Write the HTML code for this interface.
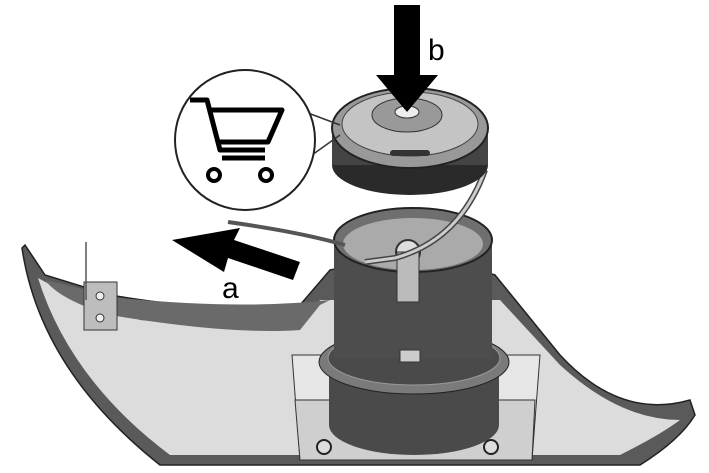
<!DOCTYPE html>
<html><head><style>html,body{margin:0;padding:0;background:#fff;width:709px;height:473px;overflow:hidden}</style></head>
<body>
<svg width="709" height="473" viewBox="0 0 709 473" xmlns="http://www.w3.org/2000/svg">
<!-- guard -->
<path d="M22,248 Q40,370 160,465 L640,465 Q680,440 695,415 L690,400 Q620,420 560,355 L495,275 Q420,250 330,270 L300,305 Q230,315 110,295 L45,275 L25,245 Z" fill="#5a5a5a" stroke="#222" stroke-width="1.5"/>
<path d="M38,278 Q70,380 170,455 L620,455 Q660,435 680,420 Q620,420 560,365 L500,300 L320,300 Q300,335 140,320 L60,290 Z" fill="#dcdcdc"/>
<path d="M45,280 Q60,300 110,315 Q230,335 300,330 L320,305 L330,300 Q240,310 120,298 Z" fill="#6a6a6a"/>
<!-- bracket -->
<rect x="84" y="282" width="33" height="48" fill="#bdbdbd" stroke="#333"/>
<circle cx="100" cy="296" r="4" fill="#eee" stroke="#333"/><circle cx="100" cy="318" r="4" fill="#eee" stroke="#333"/>
<line x1="86" y1="242" x2="86" y2="300" stroke="#555" stroke-width="1.5"/>
<!-- plate -->
<path d="M292,355 L540,355 L532,460 L300,460 Z" fill="#e6e6e6" stroke="#333"/>
<path d="M295,400 L535,400 L532,460 L300,460 Z" fill="#cfcfcf" stroke="#333"/>
<circle cx="324" cy="447" r="7" fill="#ddd" stroke="#222" stroke-width="2"/>
<circle cx="491" cy="447" r="7" fill="#ddd" stroke="#222" stroke-width="2"/>
<!-- base cylinder -->
<ellipse cx="414" cy="425" rx="85" ry="30" fill="#4a4a4a"/>
<rect x="329" y="365" width="170" height="60" fill="#4a4a4a"/>
<ellipse cx="414" cy="362" rx="95" ry="32" fill="#7a7a7a" stroke="#222"/>
<ellipse cx="414" cy="358" rx="86" ry="27" fill="#4a4a4a" stroke="#999"/>
<rect x="334" y="240" width="158" height="118" fill="#4d4d4d"/>
<ellipse cx="413" cy="240" rx="79" ry="32" fill="#6f6f6f" stroke="#222" stroke-width="2"/>
<ellipse cx="413" cy="244" rx="70" ry="26" fill="#aaa"/>
<circle cx="408" cy="252" r="12" fill="#ddd" stroke="#333" stroke-width="2"/>
<rect x="397" y="252" width="22" height="50" fill="#bbb" stroke="#333"/>
<rect x="400" y="350" width="20" height="12" fill="#ccc" stroke="#333"/>
<!-- line -->
<path d="M228,222 Q300,232 345,245" stroke="#555" stroke-width="4" fill="none"/>
<path d="M365,262 L395,258 Q460,240 485,170" stroke="#444" stroke-width="6" fill="none"/>
<path d="M365,262 L395,258 Q460,240 485,170" stroke="#ccc" stroke-width="3" fill="none"/>
<!-- spool -->
<ellipse cx="410" cy="165" rx="78" ry="30" fill="#2a2a2a"/>
<rect x="332" y="130" width="156" height="35" fill="#444"/>
<ellipse cx="410" cy="128" rx="78" ry="40" fill="#999" stroke="#222" stroke-width="2"/>
<ellipse cx="410" cy="124" rx="68" ry="32" fill="#c4c4c4" stroke="#444"/>
<ellipse cx="407" cy="115" rx="35" ry="17" fill="#999" stroke="#333"/>
<ellipse cx="407" cy="112" rx="12" ry="6" fill="#eee" stroke="#333"/>
<rect x="390" y="150" width="40" height="6" rx="3" fill="#333"/>
<!-- callout circle -->
<line x1="300" y1="110" x2="340" y2="125" stroke="#333" stroke-width="1.5"/>
<line x1="305" y1="160" x2="340" y2="135" stroke="#333" stroke-width="1.5"/>
<circle cx="245" cy="140" r="70" fill="#fff" stroke="#222" stroke-width="2"/>
<!-- cart -->
<g fill="none" stroke="#000" stroke-width="5" stroke-linejoin="round">
<path d="M190,100 L207,100 L220,150 L265,150"/>
<path d="M208,110 L282,110 L268,142 L219,142"/>
<path d="M222,158 L265,158"/>
</g>
<g fill="#fff" stroke="#000" stroke-width="4"><circle cx="214" cy="175" r="6"/><circle cx="266" cy="175" r="6"/></g>
<!-- arrows -->
<path d="M394,5 L420,5 L420,75 L438,75 L407,112 L376,75 L394,75 Z" fill="#000"/>
<path d="M300,262 L293,280 L228,258 L224,272 L172,240 L240,228 L234,240 Z" fill="#000"/>
<text x="428" y="60" font-family="Liberation Sans, sans-serif" font-size="30" fill="#000">b</text>
<text x="222" y="298" font-family="Liberation Sans, sans-serif" font-size="30" fill="#000">a</text>
</svg>
</body></html>
